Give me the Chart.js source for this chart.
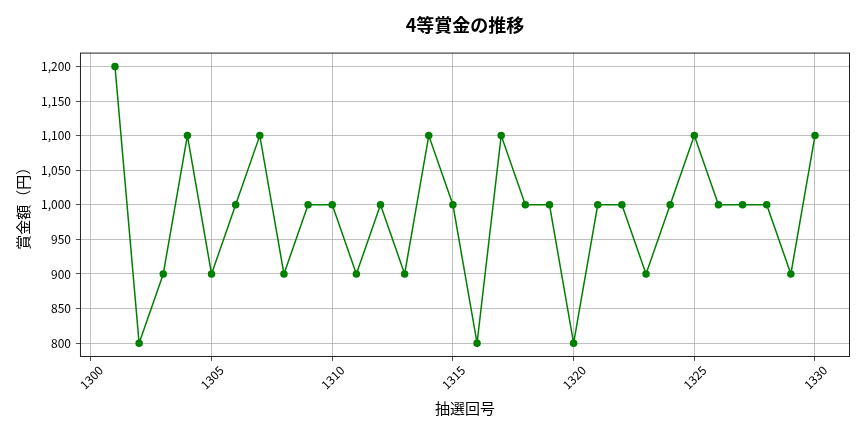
<!DOCTYPE html>
<html>
<head>
<meta charset="utf-8">
<script src="https://cdn.jsdelivr.net/npm/chart.js@4.4.1/dist/chart.umd.min.js"></script>
<style>
  html, body { margin: 0; padding: 0; background: #fff; }
  #wrap { width: 864px; height: 432px; }
</style>
</head>
<body>
<div id="wrap"><canvas id="prizeChart"></canvas></div>
<script>
// 抽選回号 and 4等 prize amounts
const drawNumbers = [1301, 1302, 1303, 1304, 1305, 1306, 1307, 1308, 1309, 1310,
                     1311, 1312, 1313, 1314, 1315, 1316, 1317, 1318, 1319, 1320,
                     1321, 1322, 1323, 1324, 1325, 1326, 1327, 1328, 1329, 1330];
const prizeValues = [1200, 800, 900, 1100, 900, 1000, 1100, 900, 1000, 1000,
                     900, 1000, 900, 1100, 1000, 800, 1100, 1000, 1000, 800,
                     1000, 1000, 900, 1000, 1100, 1000, 1000, 1000, 900, 1100];
const xTicks = [1300, 1305, 1310, 1315, 1320, 1325, 1330];
const yTicks = [800, 850, 900, 950, 1000, 1050, 1100, 1150, 1200];

const FONT = "'Noto Sans CJK JP', 'Noto Sans', sans-serif";

document.addEventListener("DOMContentLoaded", function () {
    // box around the plot area (matplotlib style spines)
    const frame = {
        id: "frame",
        afterDatasetsDraw(chart) {
            const a = chart.chartArea;
            const ctx = chart.ctx;
            ctx.save();
            ctx.strokeStyle = "#222";
            ctx.lineWidth = 1;
            ctx.strokeRect(a.left + 0.5, a.top + 0.5, a.right - a.left - 1, a.bottom - a.top - 1);
            ctx.restore();
        }
    };

    const ctx = document.getElementById("prizeChart");
    new Chart(ctx, {
        type: "line",
        data: {
            datasets: [
                {
                    label: "4等",
                    data: drawNumbers.map((n, i) => ({ x: n, y: prizeValues[i] })),
                    borderColor: "#008000",
                    backgroundColor: "#008000",
                    borderWidth: 1.5,
                    pointRadius: 3,
                    pointHoverRadius: 3,
                    tension: 0
                }
            ]
        },
        options: {
            responsive: true,
            maintainAspectRatio: false,
            animation: false,
            layout: {
                padding: { left: 14, right: 14, top: 0, bottom: 15 }
            },
            plugins: {
                legend: { display: false },
                tooltip: { enabled: false },
                title: {
                    display: true,
                    fullSize: false,
                    text: "4等賞金の推移",
                    color: "#000",
                    font: { family: FONT, size: 18, weight: "bold" },
                    padding: { top: 14, bottom: 17 }
                }
            },
            scales: {
                x: {
                    type: "linear",
                    min: 1299.55,
                    max: 1331.45,
                    afterBuildTicks: function (scale) {
                        scale.ticks = xTicks.map(v => ({ value: v }));
                    },
                    ticks: {
                        minRotation: 45,
                        maxRotation: 45,
                        labelOffset: 10,
                        padding: 2,
                        color: "#000",
                        font: { family: FONT, size: 12 },
                        callback: v => String(v)
                    },
                    grid: { color: "#b0b0b0", lineWidth: 0.8, tickLength: 4, tickColor: "#222" },
                    border: { display: false },
                    title: {
                        display: true,
                        text: "抽選回号",
                        color: "#000",
                        font: { family: FONT, size: 15 },
                        padding: { top: 5, bottom: 0 }
                    }
                },
                y: {
                    min: 780,
                    max: 1220,
                    afterBuildTicks: function (scale) {
                        scale.ticks = yTicks.map(v => ({ value: v }));
                    },
                    ticks: {
                        color: "#000",
                        padding: 5,
                        font: { family: FONT, size: 12 },
                        callback: v => v.toLocaleString("en-US")
                    },
                    grid: { color: "#b0b0b0", lineWidth: 0.8, tickLength: 4, tickColor: "#222" },
                    border: { display: false },
                    title: {
                        display: true,
                        text: "賞金額（円）",
                        color: "#000",
                        font: { family: FONT, size: 15 },
                        padding: { top: 0, bottom: 4 }
                    }
                }
            }
        },
        plugins: [frame]
    });
});
</script>
</body>
</html>
